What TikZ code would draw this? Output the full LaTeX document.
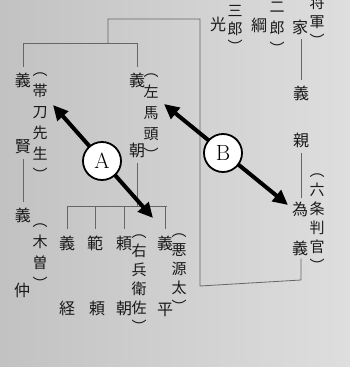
\documentclass[tikz,border=0pt]{standalone}
\usepackage{fontspec}
\newfontfamily\jp{Noto Sans CJK JP}
\usetikzlibrary{arrows.meta,calc}
\begin{document}
\begin{tikzpicture}[x=1pt,y=-1pt,
  ch/.style={font=\jp\fontsize{16}{16}\selectfont, inner sep=0pt, text=black!90},
  vcol/.style={inner sep=0pt, text=black!90, align=center, font=\jp\fontsize{15}{#1}\selectfont},
  ln/.style={draw=black!60, line width=0.8pt},
  big/.style={line width=4pt, {Triangle[length=15pt,width=14pt]}-{Triangle[length=15pt,width=14pt]}},
  lab/.style={circle, draw, line width=1.8pt, fill=white, minimum size=38pt, inner sep=0pt, font=\fontsize{22}{22}\selectfont}
]
\useasboundingbox (0,0) rectangle (350,367);
\shade[left color=black!24, right color=black!13] (0,0) rectangle (350,367);
\clip (0,0) rectangle (350,367);

% left branch
\node[ch] (yoshi1) at (23,80) {義};
\node[ch] (kata) at (23,147) {賢};
\node[vcol=21] (ptate) at (40,127) {︵\\帯\\刀\\先\\生\\︶};
\node[ch] (yoshi2) at (23,215) {義};
\node[ch] (naka) at (22,290) {仲};
\node[vcol=21] (pkiso) at (40,257) {︵\\木\\曽\\︶};

% middle branch
\node[ch] (yoshi3) at (137,80) {義};
\node[ch] (tomo1) at (137,150) {朝};
\node[vcol=21] (psama) at (151,117) {︵\\左\\馬\\頭\\︶};

\node[ch] (c1a) at (67,243) {義};
\node[ch] (c1b) at (67,308) {経};
\node[ch] (c2a) at (95,243) {範};
\node[ch] (c2b) at (97,308) {頼};
\node[ch] (c3a) at (124,243) {頼};
\node[ch] (c3b) at (124,308) {朝};
\node[ch] (c4a) at (165,243) {義};
\node[ch] (c4b) at (165,310) {平};
\node[vcol=19] (puhyoe) at (139,284) {︵\\右\\兵\\衛\\佐\\︶};
\node[vcol=19] (paku) at (179,273) {︵\\悪\\源\\太\\︶};

% right side
\node[ch] (mitsu) at (218,24) {光};
\node[vcol=18] (psaburo) at (235,24) {︵\\三\\郎\\︶};
\node[ch] (tsuna) at (259,25) {綱};
\node[vcol=21] (pjiro) at (277,22) {︵\\二\\郎\\︶};
\node[ch] (ie) at (300,27) {家};
\node[vcol=19] (pshogun) at (317,17) {︵\\将\\軍\\︶};
\node[ch] (yoshi4) at (301,93) {義};
\node[ch] (chika) at (301,140) {親};
\node[ch] (tame) at (300,209) {為};
\node[ch] (yoshi5) at (300,248) {義};
\node[vcol=19] (proku) at (317,223) {︵\\六\\条\\判\\官\\︶};

% connectors
\coordinate (tb1) at (301,280);
\coordinate (tb2) at (200,286);
\coordinate (tt1) at (200,19);
\coordinate (tt2) at (108,19);
\coordinate (j1) at (108,43);
\coordinate (j1l) at (23,43);
\coordinate (j1r) at (137,43);
\coordinate (j2) at (137,206);
\coordinate (j2l) at (67,206);
\coordinate (j2r) at (167,206);

\draw[ln, shorten <=4pt, shorten >=5pt] (ie.south -| yoshi4) -- (yoshi4);
\draw[ln, shorten <=5pt, shorten >=3pt] (chika) -- (tame.north -| chika);
\draw[ln, shorten <=3pt] (yoshi5.south -| tb1) -- (tb1) -- (tb2) -- (tt1) -- (tt2) -- (j1);
\draw[ln] (j1l) -- (j1r);
\draw[ln, shorten >=5pt] (j1l) -- (yoshi1);
\draw[ln, shorten >=5pt] (j1r) -- (yoshi3);
\draw[ln, shorten <=5pt, shorten >=5pt] (kata) -- (yoshi2);
\draw[ln, shorten <=5pt] (tomo1) -- (j2);
\draw[ln] (j2l) -- (j2r);
\draw[ln, shorten >=6pt] (c1a |- j2) -- (c1a);
\draw[ln, shorten >=6pt] (c2a |- j2) -- (c2a);
\draw[ln, shorten >=6pt] (c3a |- j2) -- (c3a);
\draw[ln, shorten >=6pt] (c4a |- j2) -- (c4a);

% arrows
\coordinate (a1) at (53,105);
\coordinate (a2) at (153,218);
\draw[big] (a1) -- (a2);
\node[lab] (A) at (102,161) {A};
\coordinate (b1) at (164,104);
\coordinate (b2) at (288,205);
\draw[big] (b1) -- (b2);
\node[lab] (B) at (223,153) {B};
\end{tikzpicture}
\end{document}
